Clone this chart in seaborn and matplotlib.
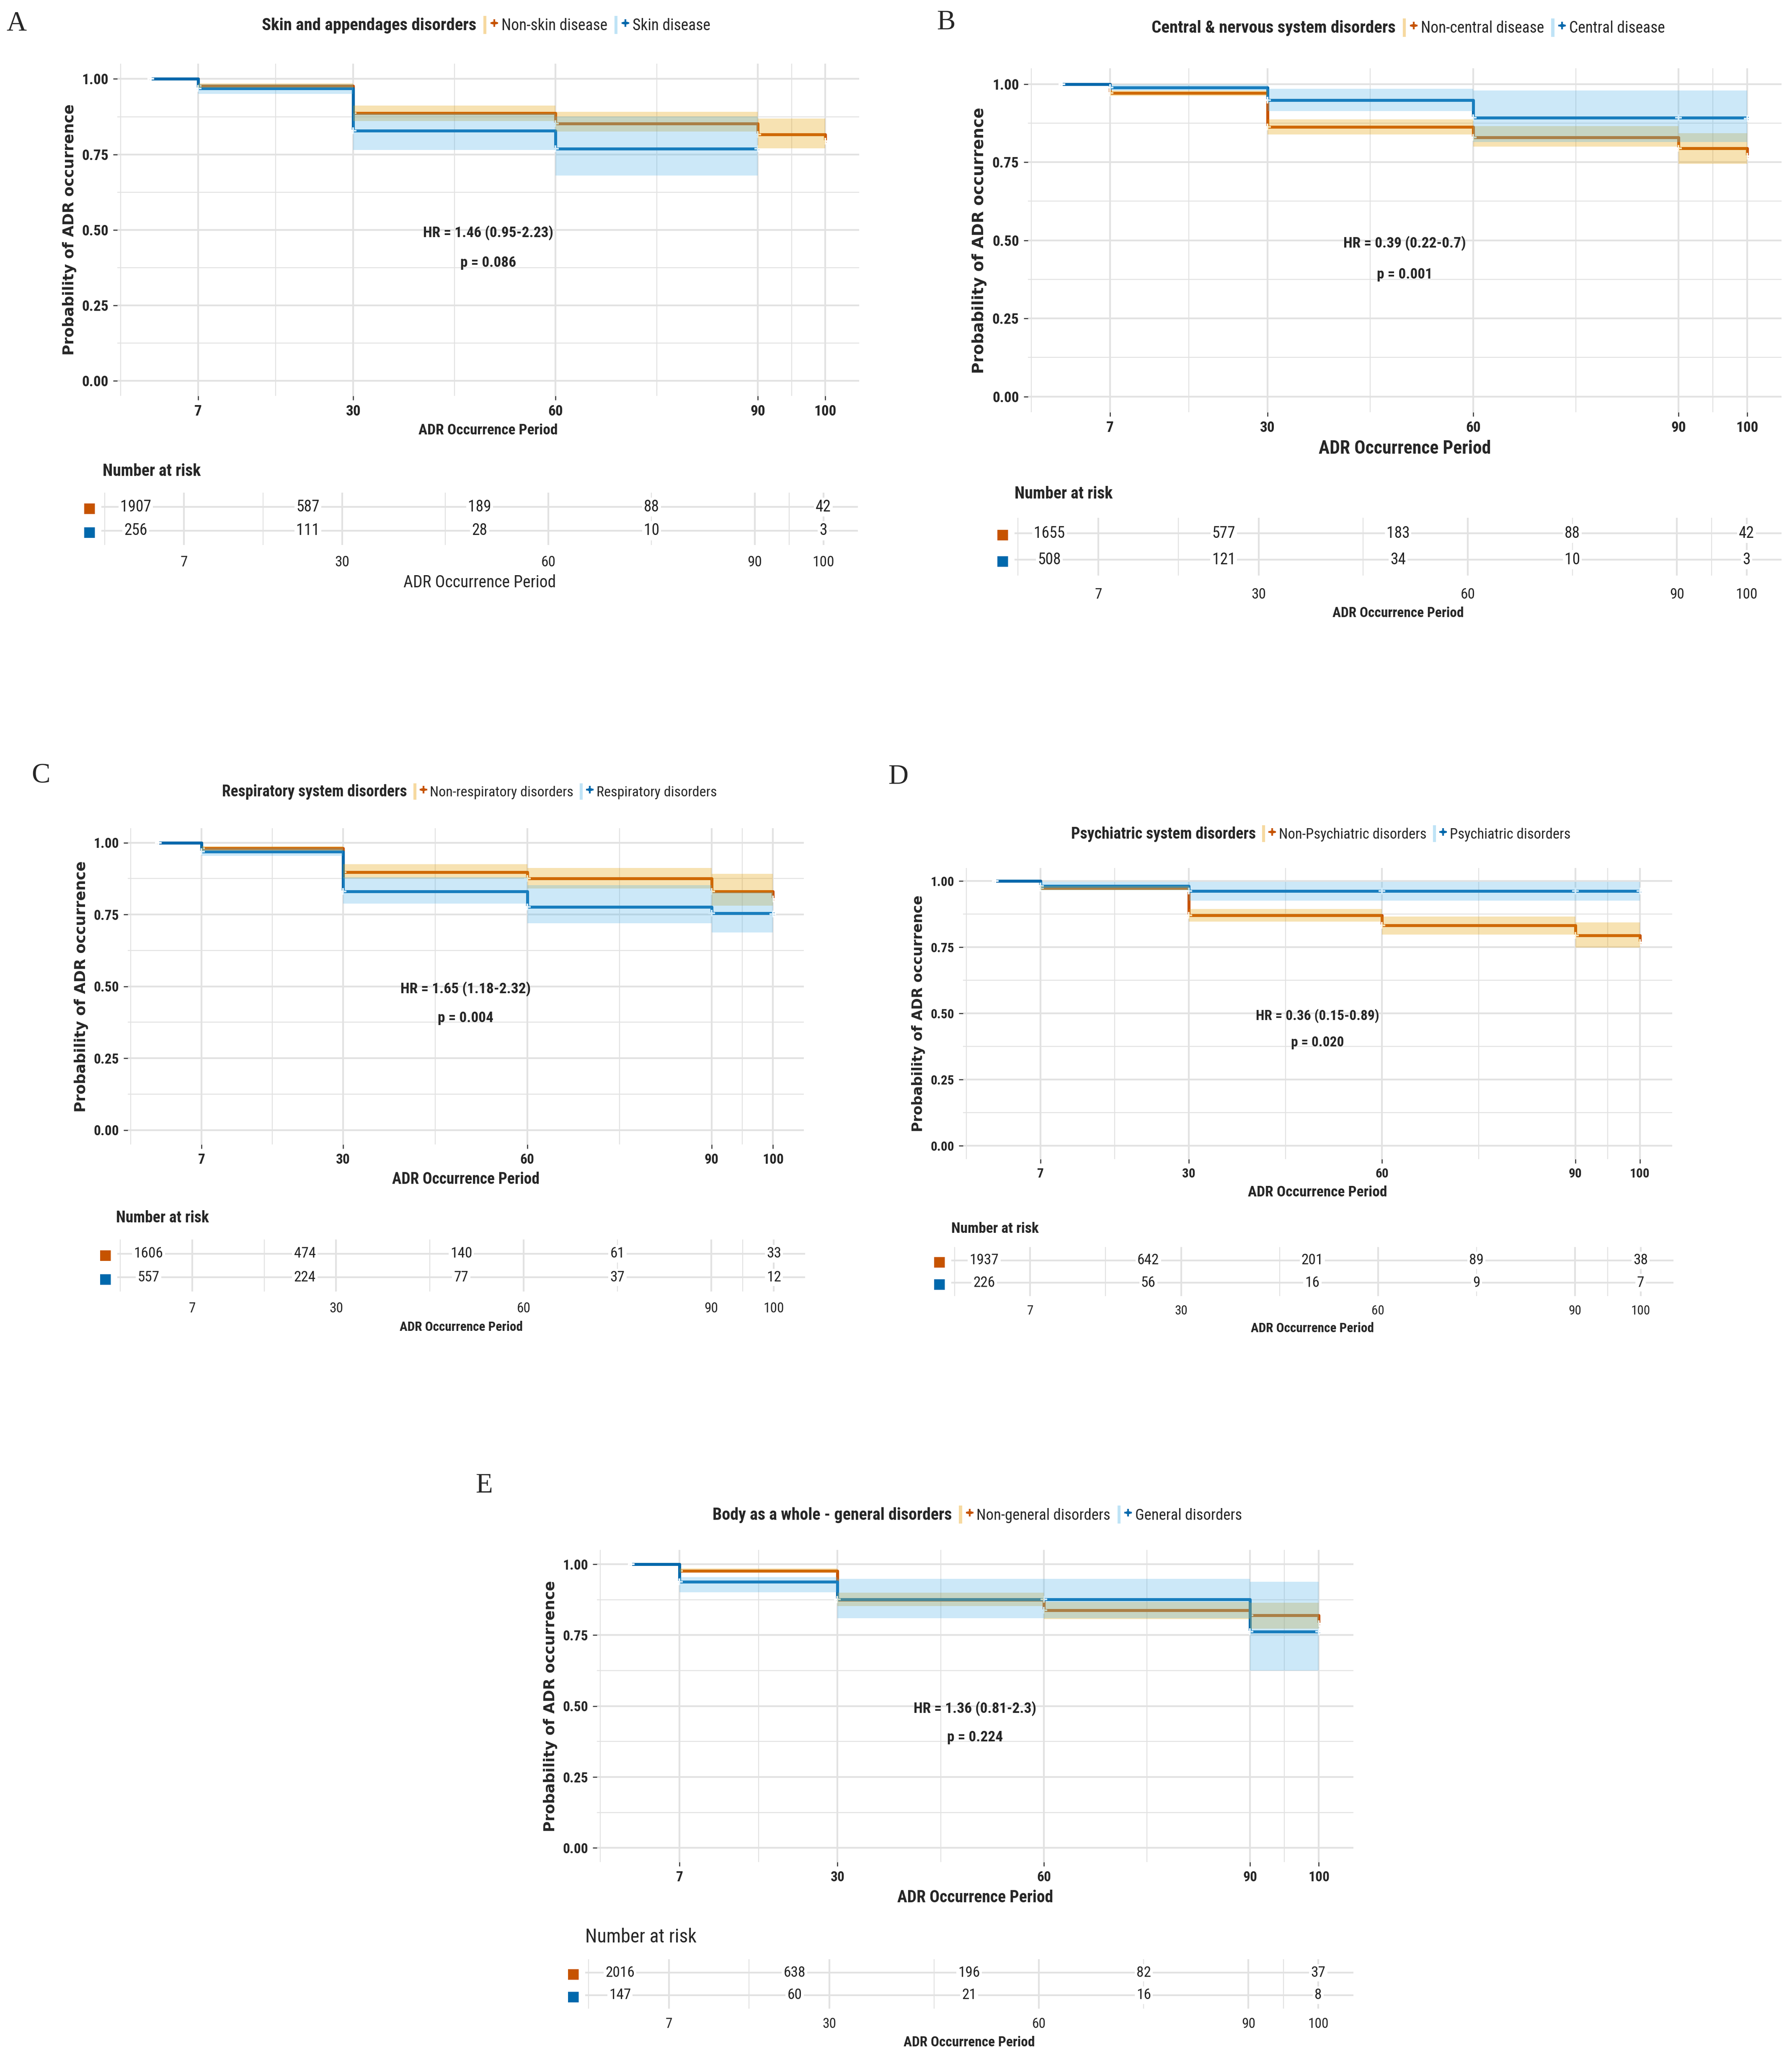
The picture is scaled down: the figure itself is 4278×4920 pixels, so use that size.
import pandas as pd
import seaborn as sns
import matplotlib.pyplot as plt
from matplotlib.patches import Patch
from matplotlib.lines import Line2D
from matplotlib.legend_handler import HandlerTuple

sns.set_theme(style="whitegrid")
NARROW = ['Roboto Condensed', 'Liberation Sans Narrow', 'Liberation Sans', 'DejaVu Sans']
plt.rcParams['font.family'] = NARROW

# shared axis values
tick_vals = [7, 30, 60, 90, 100]
minor_vals = [-4.5, 18.5, 45, 75, 95]
risk_times = [0, 25, 50, 75, 100]

# ---- A: skin ----
a_title = 'Skin and appendages disorders'
a_groups = ['Non-skin disease', 'Skin disease']
a_t0 = [0, 7, 30, 60, 90, 100]
a_s0 = [1.0, 0.977, 0.887, 0.852, 0.816, 0.794]
a_lo0 = [1.0, 0.970, 0.860, 0.826, 0.770, 0.770]
a_hi0 = [1.0, 0.985, 0.912, 0.891, 0.869, 0.869]
a_t1 = [0, 7, 30, 60, 90]
a_s1 = [1.0, 0.969, 0.829, 0.769, 0.769]
a_lo1 = [1.0, 0.950, 0.764, 0.680, 0.680]
a_hi1 = [1.0, 0.982, 0.885, 0.876, 0.876]
a_risk0 = [1907, 587, 189, 88, 42]
a_risk1 = [256, 111, 28, 10, 3]
a_hr, a_p = 'HR = 1.46 (0.95-2.23)', 'p = 0.086'

# ---- B: central nervous ----
b_title = 'Central & nervous system disorders'
b_groups = ['Non-central disease', 'Central disease']
b_t0 = [0, 7, 30, 60, 90, 100]
b_s0 = [1.0, 0.971, 0.863, 0.830, 0.794, 0.769]
b_lo0 = [1.0, 0.962, 0.839, 0.800, 0.745, 0.745]
b_hi0 = [1.0, 0.979, 0.887, 0.866, 0.843, 0.843]
b_t1 = [0, 7, 30, 60, 90, 100]
b_s1 = [1.0, 0.989, 0.949, 0.893, 0.893, 0.890]
b_lo1 = [1.0, 0.979, 0.914, 0.815, 0.815, 0.815]
b_hi1 = [1.0, 0.998, 0.985, 0.979, 0.979, 0.979]
b_risk0 = [1655, 577, 183, 88, 42]
b_risk1 = [508, 121, 34, 10, 3]
b_hr, b_p = 'HR = 0.39 (0.22-0.7)', 'p = 0.001'

# ---- C: respiratory ----
c_title = 'Respiratory system disorders'
c_groups = ['Non-respiratory disorders', 'Respiratory disorders']
c_t0 = [0, 7, 30, 60, 90, 100]
c_s0 = [1.0, 0.980, 0.898, 0.876, 0.831, 0.804]
c_lo0 = [1.0, 0.972, 0.875, 0.840, 0.781, 0.781]
c_hi0 = [1.0, 0.988, 0.925, 0.912, 0.891, 0.891]
c_t1 = [0, 7, 30, 60, 90, 100]
c_s1 = [1.0, 0.969, 0.831, 0.776, 0.754, 0.752]
c_lo1 = [1.0, 0.955, 0.788, 0.719, 0.687, 0.687]
c_hi1 = [1.0, 0.980, 0.880, 0.853, 0.827, 0.827]
c_risk0 = [1606, 474, 140, 61, 33]
c_risk1 = [557, 224, 77, 37, 12]
c_hr, c_p = 'HR = 1.65 (1.18-2.32)', 'p = 0.004'

# ---- D: psychiatric ----
d_title = 'Psychiatric system disorders'
d_groups = ['Non-Psychiatric disorders', 'Psychiatric disorders']
d_t0 = [0, 7, 30, 60, 90, 100]
d_s0 = [1.0, 0.974, 0.870, 0.832, 0.794, 0.768]
d_lo0 = [1.0, 0.966, 0.847, 0.798, 0.748, 0.748]
d_hi0 = [1.0, 0.982, 0.895, 0.866, 0.843, 0.843]
d_t1 = [0, 7, 30, 60, 90, 100]
d_s1 = [1.0, 0.982, 0.963, 0.963, 0.963, 0.963]
d_lo1 = [1.0, 0.965, 0.926, 0.926, 0.926, 0.926]
d_hi1 = [1.0, 0.997, 0.997, 0.997, 0.997, 0.997]
d_risk0 = [1937, 642, 201, 89, 38]
d_risk1 = [226, 56, 16, 9, 7]
d_hr, d_p = 'HR = 0.36 (0.15-0.89)', 'p = 0.020'

# ---- E: general ----
e_title = 'Body as a whole - general disorders'
e_groups = ['Non-general disorders', 'General disorders']
e_t0 = [0, 7, 30, 60, 90, 100]
e_s0 = [1.0, 0.977, 0.874, 0.837, 0.820, 0.790]
e_lo0 = [1.0, 0.970, 0.853, 0.806, 0.773, 0.773]
e_hi0 = [1.0, 0.985, 0.900, 0.867, 0.864, 0.864]
e_t1 = [0, 7, 30, 60, 90, 100]
e_s1 = [1.0, 0.938, 0.876, 0.876, 0.763, 0.763]
e_lo1 = [1.0, 0.901, 0.810, 0.810, 0.625, 0.625]
e_hi1 = [1.0, 0.954, 0.948, 0.948, 0.938, 0.938]
e_risk0 = [2016, 638, 196, 82, 37]
e_risk1 = [147, 60, 21, 16, 8]
e_hr, e_p = 'HR = 1.36 (0.81-2.3)', 'p = 0.224'

LINE = ['#C65300', '#0068AC']
FILL = ['#E69F00', '#56B4E9']
KEYFILL = ['#F6D9A0', '#BFE3F6']
GRID = '#E2E2E2'

W, H = 1360.0, 1565.0  # layout units (reference preview pixels)

fig = plt.figure(figsize=(4278 / 300, 4920 / 300), dpi=300)


def box(l, r, t, b):
    return [l / W, 1 - b / H, (r - l) / W, (b - t) / H]


def panel(letter, title, groups, curves, risk0, risk1, hr, p, lay):
    # survival curves
    rows = []
    for g, (t, s, lo, hi) in zip(groups, curves):
        for ti, si, li, hii in zip(t, s, lo, hi):
            rows.append({'time': ti, 'surv': si, 'lo': li, 'hi': hii, 'group': g})
    df = pd.DataFrame(rows)

    ax = fig.add_axes(box(*lay['main']))
    sns.lineplot(data=df, x='time', y='surv', hue='group', hue_order=groups,
                 palette=LINE, drawstyle='steps-post', estimator=None,
                 marker='+', markersize=4, markeredgewidth=1.0,
                 linewidth=1.7, legend=False, ax=ax)
    for g, fc in zip(groups, FILL):
        sub = df[df['group'] == g]
        ax.fill_between(sub['time'], sub['lo'], sub['hi'], step='post',
                        color=fc, alpha=0.3, linewidth=0, zorder=2.5)

    ax.set_xlim(-5, 105)
    ax.set_ylim(-0.05, 1.05)
    ax.set_xticks(tick_vals)
    ax.set_xticks(minor_vals, minor=True)
    ax.set_yticks([0, 0.25, 0.5, 0.75, 1.0])
    ax.set_yticklabels(['0.00', '0.25', '0.50', '0.75', '1.00'])
    ax.set_yticks([0.125, 0.375, 0.625, 0.875], minor=True)
    ax.grid(True, which='major', color=GRID, linewidth=1.0)
    ax.grid(True, which='minor', color=GRID, linewidth=0.55)
    for sp in ax.spines.values():
        sp.set_visible(False)
    ax.tick_params(which='major', length=2.5, width=0.6, color='#333333',
                   pad=2.5, labelsize=lay['tick'], bottom=True, left=True)
    ax.tick_params(which='minor', length=0)
    for lab in ax.get_xticklabels() + ax.get_yticklabels():
        lab.set_fontweight('bold')
    ax.set_xlabel('ADR Occurrence Period', fontsize=lay['xlab'],
                  fontweight='bold', labelpad=3)
    ax.set_ylabel('Probability of ADR occurrence', family='DejaVu Sans',
                  fontsize=lay['ylab'], fontweight='bold', labelpad=3)
    ax.text(50, 0.49, hr, ha='center', va='center', fontsize=lay['hr'],
            fontweight='bold', zorder=5)
    ax.text(50, 0.39, p, ha='center', va='center', fontsize=lay['hr'],
            fontweight='bold', zorder=5)

    # legend on top
    handles = [Patch(facecolor='none', edgecolor='none')]
    for lc, fc in zip(LINE, KEYFILL):
        handles.append((Patch(facecolor=fc, edgecolor='none'),
                        Line2D([], [], color=lc, linewidth=1.5, marker='+',
                               markersize=4.5, markeredgewidth=1.0)))
    leg = fig.legend(handles, [title] + groups, loc='center', ncol=3,
                     bbox_to_anchor=(lay['leg'][0] / W, 1 - lay['leg'][1] / H),
                     bbox_transform=fig.transFigure, frameon=False,
                     handlelength=0.8, handleheight=1.4, handletextpad=0.35,
                     columnspacing=0.45, fontsize=lay['legfs'],
                     handler_map={tuple: HandlerTuple(ndivide=None)})
    leg.get_texts()[0].set_fontweight('bold')
    leg.get_texts()[0].set_fontsize(lay['legfs'] + 0.8)

    fig.text(lay['letter'][0] / W, 1 - lay['letter'][1] / H, letter,
             family=['Liberation Serif', 'DejaVu Serif'], fontsize=16,
             ha='left', va='center')

    # number at risk table
    l, r, r0, r1 = lay['risk']
    d = r1 - r0
    axr = fig.add_axes(box(l, r, r0 - 0.6 * d, r1 + 0.6 * d))
    for row, vals in enumerate([risk0, risk1]):
        for t, n in zip(risk_times, vals):
            axr.text(t, row, str(n), ha='center', va='center',
                     fontsize=lay['risk_fs'], color='#222222',
                     bbox=dict(facecolor='white', edgecolor='none', pad=1.0))
    axr.set_xlim(-5, 105)
    axr.set_ylim(1.6, -0.6)
    axr.set_xticks(tick_vals)
    axr.set_xticks(minor_vals, minor=True)
    axr.set_yticks([0, 1])
    axr.set_yticklabels(['■', '■'], family='DejaVu Sans')
    for lab, c in zip(axr.get_yticklabels(), LINE):
        lab.set_color(c)
        lab.set_fontsize(8)
    axr.grid(True, which='major', color=GRID, linewidth=1.0)
    axr.grid(True, which='minor', axis='x', color=GRID, linewidth=0.55)
    for sp in axr.spines.values():
        sp.set_visible(False)
    axr.tick_params(which='both', length=0)
    axr.tick_params(axis='x', pad=lay['rpad'], labelsize=lay['tick'])
    axr.tick_params(axis='y', pad=3)
    axr.set_xlabel('ADR Occurrence Period', fontsize=lay['rxlab'],
                   fontweight=lay['rxw'], labelpad=3)
    fig.text(lay['nar'][0] / W, 1 - lay['nar'][1] / H, 'Number at risk',
             fontsize=lay['nar_fs'], fontweight=lay['nar_w'],
             ha='left', va='center')


panel('A', a_title, a_groups,
      [(a_t0, a_s0, a_lo0, a_hi0), (a_t1, a_s1, a_lo1, a_hi1)],
      a_risk0, a_risk1, a_hr, a_p,
      dict(main=(89, 652, 48.5, 300.5), risk=(77, 651, 385, 403),
           leg=(362, 19), letter=(5, 18), nar=(78, 358), tick=8.5,
           xlab=8.5, ylab=8.5, hr=8.5, legfs=9, risk_fs=9, rpad=6, rxlab=9.5,
           rxw='normal', nar_fs=9.5, nar_w='bold'))

panel('B', b_title, b_groups,
      [(b_t0, b_s0, b_lo0, b_hi0), (b_t1, b_s1, b_lo1, b_hi1)],
      b_risk0, b_risk1, b_hr, b_p,
      dict(main=(780, 1352, 52, 313), risk=(770, 1352, 405, 425),
           leg=(1062, 21), letter=(711, 17), nar=(770, 375), tick=8.5,
           xlab=10.5, ylab=9, hr=8.5, legfs=9, risk_fs=9, rpad=7, rxlab=8,
           rxw='bold', nar_fs=9.5, nar_w='bold'))

panel('C', c_title, c_groups,
      [(c_t0, c_s0, c_lo0, c_hi0), (c_t1, c_s1, c_lo1, c_hi1)],
      c_risk0, c_risk1, c_hr, c_p,
      dict(main=(97, 610, 629, 869), risk=(89, 611, 952, 970),
           leg=(350, 601), letter=(24, 589), nar=(88, 925), tick=8,
           xlab=9, ylab=8.5, hr=8.5, legfs=8.2, risk_fs=8.5, rpad=6, rxlab=7.5,
           rxw='bold', nar_fs=9, nar_w='bold'))

panel('D', d_title, d_groups,
      [(d_t0, d_s0, d_lo0, d_hi0), (d_t1, d_s1, d_lo1, d_hi1)],
      d_risk0, d_risk1, d_hr, d_p,
      dict(main=(731, 1269, 659, 880), risk=(722, 1270, 957, 974),
           leg=(996, 633), letter=(674, 590), nar=(722, 933), tick=7.5,
           xlab=8.5, ylab=8, hr=8, legfs=8.3, risk_fs=8.5, rpad=5, rxlab=7.5,
           rxw='bold', nar_fs=8.5, nar_w='bold'))

panel('E', e_title, e_groups,
      [(e_t0, e_s0, e_lo0, e_hi0), (e_t1, e_s1, e_lo1, e_hi1)],
      e_risk0, e_risk1, e_hr, e_p,
      dict(main=(453, 1027, 1177, 1414), risk=(444, 1027, 1498, 1515),
           leg=(735, 1150), letter=(361, 1128), nar=(444, 1471), tick=8,
           xlab=9.5, ylab=8.5, hr=8.5, legfs=8.8, risk_fs=8.5, rpad=5, rxlab=8,
           rxw='bold', nar_fs=11, nar_w='normal'))

fig.savefig('out.png', dpi=300, facecolor='white')
